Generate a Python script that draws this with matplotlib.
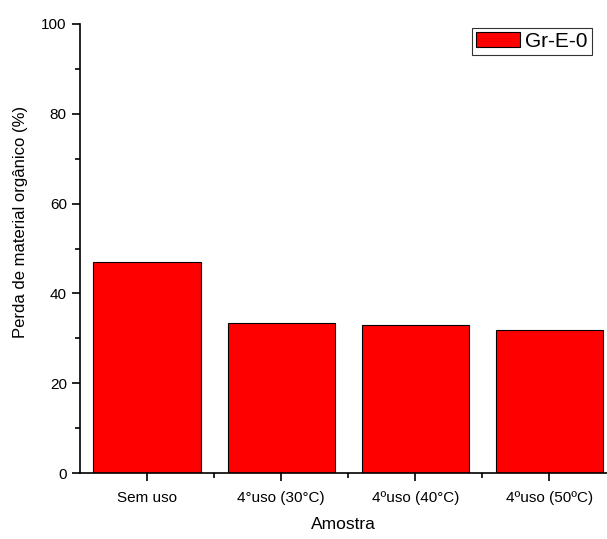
import matplotlib.pyplot as plt
import numpy as np

plt.rcParams['font.family'] = ['Liberation Sans', 'DejaVu Sans']

amostras = ['Sem uso', '4°uso (30°C)', '4ºuso (40°C)', '4ºuso (50ºC)']
perda = [47.0, 33.5, 32.9, 31.9]

fig = plt.figure(figsize=(6.07, 5.39), dpi=100)
ax = fig.add_axes([0.1318, 0.1224, 0.8682, 0.8331])

x = np.arange(len(amostras))
ax.bar(x, perda, width=0.8, color='#ff0000', edgecolor='#000000', linewidth=0.8, label='Gr-E-0')

ax.set_xlim(-0.5, 3.43)
ax.set_ylim(0, 100)
ax.set_yticks([0, 20, 40, 60, 80, 100])
ax.set_yticks([10, 30, 50, 70, 90], minor=True)
ax.set_xticks(x)
ax.set_xticks(x[:-1] + 0.5, minor=True)
ax.set_xticklabels(amostras, fontsize=11)
ax.tick_params(axis='x', pad=7)
ax.tick_params(axis='y', labelsize=11)
ax.tick_params(which='major', length=6, width=1.2, direction='out')
ax.tick_params(which='minor', length=3.5, width=1.2, direction='out')

ax.spines['top'].set_visible(False)
ax.spines['right'].set_visible(False)
ax.spines['left'].set_linewidth(1.2)
ax.spines['bottom'].set_linewidth(1.2)

ax.set_xlabel('Amostra', fontsize=12.5)
ax.set_ylabel('Perda de material orgânico (%)', fontsize=12)
ax.xaxis.set_label_coords(0.5, -0.097)
ax.yaxis.set_label_coords(-0.099, 0.559)

leg = ax.legend(loc='upper right', bbox_to_anchor=(0.9716, 0.991), fontsize=15, frameon=True,
                fancybox=False, edgecolor='black', handlelength=2.1, handleheight=0.72,
                borderpad=0.2, handletextpad=0.25, borderaxespad=0.0)
leg.get_frame().set_linewidth(0.8)

plt.savefig('out.png', dpi=100)
